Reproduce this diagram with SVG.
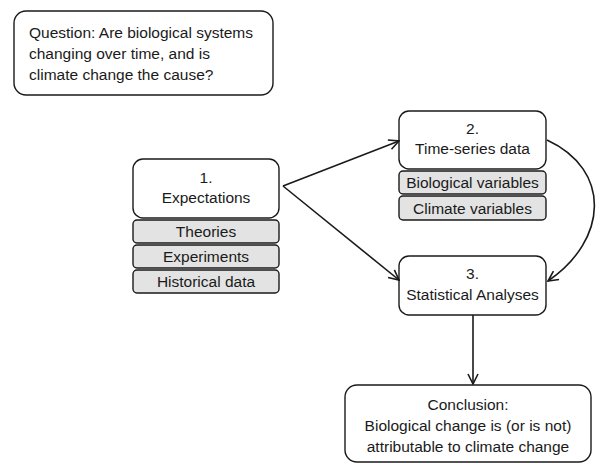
<svg xmlns="http://www.w3.org/2000/svg" width="597" height="463" viewBox="0 0 597 463">
<style>
.box{fill:#fff;stroke:#1a1a1a;stroke-width:1.4}
.sub{fill:#e3e3e3;stroke:#1a1a1a;stroke-width:1.4}
text{font-family:"Liberation Sans",Arial,sans-serif;font-size:15.5px;fill:#1a1a1a}
.c{text-anchor:middle}
.conn{fill:none;stroke:#1a1a1a;stroke-width:1.6}
</style>
<defs>
<marker id="ah" viewBox="0 0 12 12" refX="11" refY="6" markerWidth="12" markerHeight="12" markerUnits="userSpaceOnUse" orient="auto">
<path d="M1,1 L11,6 L1,11" fill="none" stroke="#1a1a1a" stroke-width="1.6"/>
</marker>
</defs>
<rect width="597" height="463" fill="#fff"/>
<g id="question">
<rect class="box" x="14" y="11" width="259" height="84" rx="12"/>
<text x="29" y="38">Question: Are biological systems</text>
<text x="29" y="59">changing over time, and is</text>
<text x="29" y="80">climate change the cause?</text>
</g>
<g id="expectations">
<rect class="box" x="133" y="159" width="146" height="59" rx="10"/>
<text class="c" x="206" y="183">1.</text>
<text class="c" x="206" y="203">Expectations</text>
</g>
<g id="theories">
<rect class="sub" x="133" y="220" width="146" height="23" rx="4"/>
<text class="c" x="206" y="237">Theories</text>
</g>
<g id="experiments">
<rect class="sub" x="133" y="245" width="146" height="23" rx="4"/>
<text class="c" x="206" y="262">Experiments</text>
</g>
<g id="historical">
<rect class="sub" x="133" y="270" width="146" height="23" rx="4"/>
<text class="c" x="206" y="287">Historical data</text>
</g>
<g id="timeseries">
<rect class="box" x="399" y="111" width="147" height="58" rx="10"/>
<text class="c" x="472.5" y="134">2.</text>
<text class="c" x="472.5" y="154">Time-series data</text>
</g>
<g id="biological">
<rect class="sub" x="399" y="171" width="147" height="23" rx="4"/>
<text class="c" x="472.5" y="188">Biological variables</text>
</g>
<g id="climate">
<rect class="sub" x="399" y="196" width="147" height="24" rx="4"/>
<text class="c" x="472.5" y="213.5">Climate variables</text>
</g>
<g id="statistical">
<rect class="box" x="399" y="256" width="147" height="59" rx="10"/>
<text class="c" x="472.5" y="279">3.</text>
<text class="c" x="472.5" y="300">Statistical Analyses</text>
</g>
<g id="conclusion">
<rect class="box" x="345" y="385" width="246" height="77" rx="12"/>
<text class="c" x="468" y="410">Conclusion:</text>
<text class="c" x="468" y="431">Biological change is (or is not)</text>
<text class="c" x="468" y="452">attributable to climate change</text>
</g>
<g id="connectors">
<path class="conn" d="M283,186 L399,141" marker-end="url(#ah)"/>
<path class="conn" d="M283,186 L399,280" marker-end="url(#ah)"/>
<path class="conn" d="M547,140 C612,170 608,240 548,281" marker-end="url(#ah)"/>
<path class="conn" d="M473,315 L473,384" marker-end="url(#ah)"/>
</g>
</svg>
